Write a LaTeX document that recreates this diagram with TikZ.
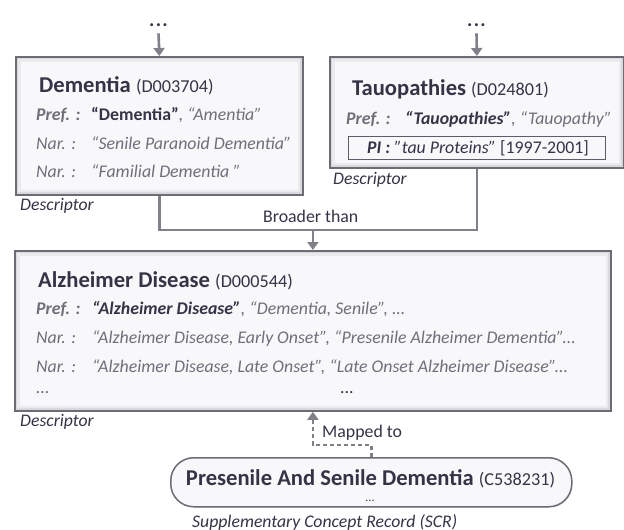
\documentclass[tikz,border=0pt]{standalone}
\usepackage{fontspec}
\setmainfont{Carlito}
\usetikzlibrary{arrows.meta,shadows}
\definecolor{dk}{HTML}{363346}
\definecolor{gr}{HTML}{6F6E7A}
\definecolor{bd}{HTML}{6C6C75}
\definecolor{bf}{HTML}{F8F8FB}
\definecolor{cn}{HTML}{808089}
\newcommand{\codefont}{\fontsize{18.2}{21}\selectfont\mdseries}
\tikzset{
  mybox/.style={draw=bd, line width=1.8pt, fill=bf, inner sep=0,
    drop shadow={shadow xshift=0.8pt, shadow yshift=-0.8pt, opacity=0.35, fill=gray},
    path picture={
      \draw[line width=10pt, bd, opacity=0.09] (path picture bounding box.south west) rectangle (path picture bounding box.north east);
      \draw[line width=5pt, bd, opacity=0.13] (path picture bounding box.south west) rectangle (path picture bounding box.north east);
    }},
  scrbox/.style={draw=bd, line width=1.5pt, fill=bf, rounded corners=23pt, inner sep=0,
    drop shadow={shadow xshift=0.8pt, shadow yshift=-0.8pt, opacity=0.3, fill=gray}},
  tx/.style={anchor=base west, inner sep=0, text=dk},
  ttl/.style={font=\fontsize{22.6}{26}\selectfont\bfseries},
  bdy/.style={font=\fontsize{17.8}{21}\selectfont},
  lab/.style={tx, font=\fontsize{17.8}{21}\selectfont\itshape\bfseries, text=gr},
  lbn/.style={tx, font=\fontsize{17.8}{21}\selectfont\itshape, text=gr},
  dots/.style={inner sep=0, text=dk, font=\fontsize{20}{22}\selectfont\bfseries, anchor=base},
  conn/.style={draw=cn, line width=2.6pt},
  tip/.style={-{Triangle[length=8pt,width=11pt]}},
  dconn/.style={draw=cn, line width=2.6pt, dash pattern=on 4pt off 3pt},
  captxt/.style={tx, font=\fontsize{17.7}{21}\selectfont\itshape, text=dk}
}
\begin{document}
\begin{tikzpicture}[x=1pt,y=-1pt]
\useasboundingbox (0,0) rectangle (624,530);
% boxes
\node[mybox, minimum width=287pt, minimum height=138pt, anchor=north west] (dem) at (15,56) {};
\node[mybox, minimum width=294pt, minimum height=111pt, anchor=north west] (tau) at (329,56) {};
\node[mybox, minimum width=596pt, minimum height=160pt, anchor=north west] (alz) at (14,250) {};
\node[scrbox, minimum width=401pt, minimum height=49pt, anchor=north west] (scr) at (170,457) {};
% top dots and arrows
\node[dots] (d1) at (158.5,27) {.\kern1.3pt.\kern1.3pt.};
\node[dots] (d2) at (476.5,27) {.\kern1.3pt.\kern1.3pt.};
\draw[conn,tip] (d1.south) ++(0,6) coordinate (d1s) -- (dem.north);
\draw[conn,tip] (d2.south) ++(0,6) coordinate (d2s) -- (tau.north);
% Dementia text
\node[tx, ttl] (demt) at (39,92) {Dementia {\codefont(D003704)}};
\node[lab] (dp) at (36,120) {Pref. :};
\node[tx, bdy] (dpv) at (91,120) {{\bfseries “Dementia”}{\itshape\color{gr}, “Amentia”}};
\node[lbn] (dn1) at (36,149) {Nar. :};
\node[lbn] (dn1v) at (91,149) {“Senile Paranoid Dementia”};
\node[lbn] (dn2) at (36,177) {Nar. :};
\node[lbn] (dn2v) at (91,177) {“Familial Dementia ”};
\node[captxt] (dc) at (20,210) {Descriptor};
% Tauopathies text
\node[tx, ttl] (taut) at (352,95) {Tauopathies {\codefont(D024801)}};
\node[lab] (tp) at (346,124) {Pref. :};
\node[tx, bdy] (tpv) at (405,124) {{\bfseries\itshape “Tauopathies”}{\itshape\color{gr}, “Tauopathy”}};
\node[draw=dk!80, line width=0.9pt, minimum width=257pt, minimum height=23pt, inner sep=0, anchor=north west] (pi) at (348,136) {};
\node[tx, bdy] (pit) at (367,153) {{\bfseries\itshape PI :} {\itshape "tau Proteins"} [1997-2001]};
\node[captxt] (tc) at (333,184) {Descriptor};
% connectors broader
\coordinate (bj) at (alz.north |- 0,230);
\draw[conn] (dem.south) |- (tau.south |- bj) -- (tau.south);
\draw[conn,tip] (bj) -- (alz.north);
\node[tx, font=\fontsize{17.8}{21}\selectfont] (br) at (263,222) {Broader than};
% Alzheimer text
\node[tx, ttl] (alzt) at (38,287) {Alzheimer Disease {\codefont(D000544)}};
\node[lab] (ap) at (36,314) {Pref. :};
\node[tx, bdy] (apv) at (92,314) {{\bfseries\itshape “Alzheimer Disease”}{\itshape\color{gr}, “Dementia, Senile”, ...}};
\node[lbn] (an1) at (36,343) {Nar. :};
\node[lbn] (an1v) at (92,343) {“Alzheimer Disease, Early Onset”, “Presenile Alzheimer Dementia”...};
\node[lbn] (an2) at (36,372) {Nar. :};
\node[lbn] (an2v) at (92,372) {“Alzheimer Disease, Late Onset”, “Late Onset Alzheimer Disease”...};
\node[lbn] (an3) at (36,393) {...};
\node[tx, bdy] (an3v) at (340,393) {...};
\node[captxt] (ac) at (20,426) {Descriptor};
% mapped
\coordinate (mj) at (scr.north |- 0,445);
\draw[dconn,tip] (scr.north) -- (mj) -| (alz.south);
\node[tx, font=\fontsize{17.8}{21}\selectfont] (mp) at (322,437) {Mapped to};
% SCR text
\node[tx, font=\fontsize{22.6}{26}\selectfont\bfseries, anchor=base] (scrt) at (370.5,485) {Presenile And Senile Dementia {\codefont(C538231)}};
\node[tx, font=\fontsize{12}{14}\selectfont, anchor=base] (scrd) at (370,501) {...};
\node[captxt] (sc) at (192,527) {Supplementary Concept Record (SCR)};
\end{tikzpicture}
\end{document}
